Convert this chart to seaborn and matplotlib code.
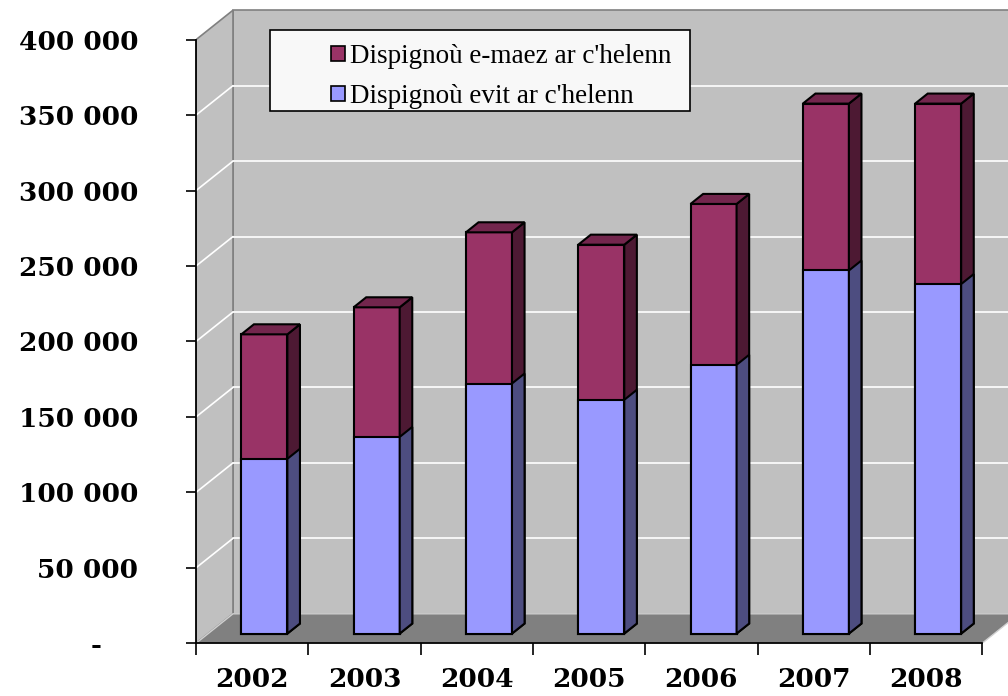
import numpy as np
import pandas as pd
import matplotlib
matplotlib.use('Agg')
import matplotlib.pyplot as plt
import matplotlib.transforms as mtransforms
from matplotlib.patches import Polygon, Patch, Rectangle
import seaborn as sns

# données
annees = ['2002', '2003', '2004', '2005', '2006', '2007', '2008']
evit = [115800, 130300, 165700, 154900, 178100, 240600, 231600]      # dispignoù evit ar c'helenn
emaez = [82500, 85900, 100200, 102800, 106600, 110600, 119600]      # dispignoù e-maez ar c'helenn
yticks = [0, 50000, 100000, 150000, 200000, 250000, 300000, 350000, 400000]
labels = ["Dispignoù e-maez ar c'helenn", "Dispignoù evit ar c'helenn"]

df = pd.DataFrame({'annee': annees, 'evit': evit, 'emaez': emaez})
df['total'] = df['evit'] + df['emaez']

sns.set_style('white')
plt.rcParams['text.color'] = 'black'
plt.rcParams['xtick.color'] = 'black'
plt.rcParams['ytick.color'] = 'black'

RED, RED_SIDE, RED_TOP = '#993366', '#4D1933', '#73264D'
BLUE, BLUE_SIDE = '#9999FF', '#4D4D80'
WALL, FLOOR, EDGE = '#C0C0C0', '#808080', '#808080'

fig = plt.figure(figsize=(10.08, 6.96), dpi=100)
ax = fig.add_axes([196 / 1008, (696 - 643.3) / 696, (1008 - 196) / 1008, 643.3 / 696])

# profondeur 3D (en unités de données)
DX, DY = 0.3295, 19550
FRONT, DEPTH = 0.33, 0.34
fx, fy = FRONT * DX, FRONT * DY
sx, sy = DEPTH * DX, DEPTH * DY
x_lo, x_hi = -0.5, len(annees) - 0.5
y_top = yticks[-1]

# murs et sol
ax.add_patch(Polygon([(x_lo + DX, DY), (x_hi + DX + 1, DY), (x_hi + DX + 1, y_top + DY), (x_lo + DX, y_top + DY)],
                     facecolor=WALL, edgecolor=EDGE, lw=1.2, zorder=0))
ax.add_patch(Polygon([(x_lo, 0), (x_lo + DX, DY), (x_lo + DX, y_top + DY), (x_lo, y_top)],
                     facecolor=WALL, edgecolor=EDGE, lw=1.2, zorder=0))
ax.add_patch(Polygon([(x_lo, 0), (x_hi, 0), (x_hi + DX, DY), (x_lo + DX, DY)],
                     facecolor=FLOOR, edgecolor='#D0D0D0', lw=1, zorder=0.5))
for v in yticks[1:-1]:
    ax.plot([x_lo, x_lo + DX], [v, v + DY], color='white', lw=1.2, zorder=0.6)
    ax.plot([x_lo + DX, x_hi + DX + 1], [v + DY, v + DY], color='white', lw=1.2, zorder=0.6)


def barres(col, face, side, top):
    n0 = len(ax.patches)
    sns.barplot(data=df, x='annee', y=col, color=face, saturation=1, width=0.41,
                edgecolor='black', linewidth=1.5, errorbar=None, ax=ax, zorder=3)
    shift = mtransforms.Affine2D().translate(fx, fy) + ax.transData
    for p in ax.patches[n0:]:
        p.set_transform(shift)
        x0, w, y1 = p.get_x(), p.get_width(), p.get_height()
        X0, X1, Yb, Yt = x0 + fx, x0 + w + fx, fy, y1 + fy
        ax.add_patch(Polygon([(X1, Yb), (X1 + sx, Yb + sy), (X1 + sx, Yt + sy), (X1, Yt)],
                             facecolor=side, edgecolor='black', lw=1.5, zorder=3))
        if top:
            ax.add_patch(Polygon([(X0, Yt), (X0 + sx, Yt + sy), (X1 + sx, Yt + sy), (X1, Yt)],
                                 facecolor=top, edgecolor='black', lw=1.5, zorder=3))


barres('total', RED, RED_SIDE, RED_TOP)
barres('evit', BLUE, BLUE_SIDE, None)

ax.set_xlim(x_lo, x_lo + (1008 - 196) / 112.3)
ax.set_ylim(0, 643.3 / 603.6 * 400000)
ax.set_xlabel('')
ax.set_ylabel('')

for s in ['top', 'right']:
    ax.spines[s].set_visible(False)
ax.spines['left'].set_bounds(0, y_top)
ax.spines['bottom'].set_bounds(x_lo, x_hi)
for s in ['left', 'bottom']:
    ax.spines[s].set_color('black')
    ax.spines[s].set_linewidth(1.3)
    ax.spines[s].set_zorder(4)

tick_font = dict(family='DejaVu Serif', weight='bold', size=19, color='black')
ax.set_yticks(yticks)
ax.set_yticklabels([f'{v:,}'.replace(',', ' ') if v else '-    ' for v in yticks], **tick_font)
ax.tick_params(axis='y', left=True, length=7.2, width=1.2, color='black', pad=34.5)
ax.set_xticks(range(len(annees)))
ax.set_xticklabels(annees, **tick_font)
ax.set_xticks(np.arange(len(annees) + 1) - 0.5, minor=True)
ax.tick_params(axis='x', which='major', length=0, pad=17)
ax.tick_params(axis='x', which='minor', bottom=True, length=8.6, width=1.2, color='black')

# légende
ax.add_patch(Rectangle((270 / 1008, 1 - 111 / 696), 420 / 1008, 81 / 696, transform=fig.transFigure,
                       facecolor='#F8F8F8', edgecolor='black', lw=1.2, zorder=5, clip_on=False))
handles = [Patch(facecolor=RED, edgecolor='black', lw=1.2), Patch(facecolor=BLUE, edgecolor='black', lw=1.2)]
leg = ax.legend(handles, labels, loc='upper right', bbox_to_anchor=(688 / 1008, 1 - 28 / 696),
                bbox_transform=fig.transFigure, frameon=False, prop=dict(family='Liberation Serif', size=19.5),
                handlelength=0.5, handleheight=0.5, handletextpad=0.2, labelspacing=0.55, borderpad=0.1,
                labelcolor='black')
leg.set_zorder(6)

fig.savefig('out.png', dpi=100)
